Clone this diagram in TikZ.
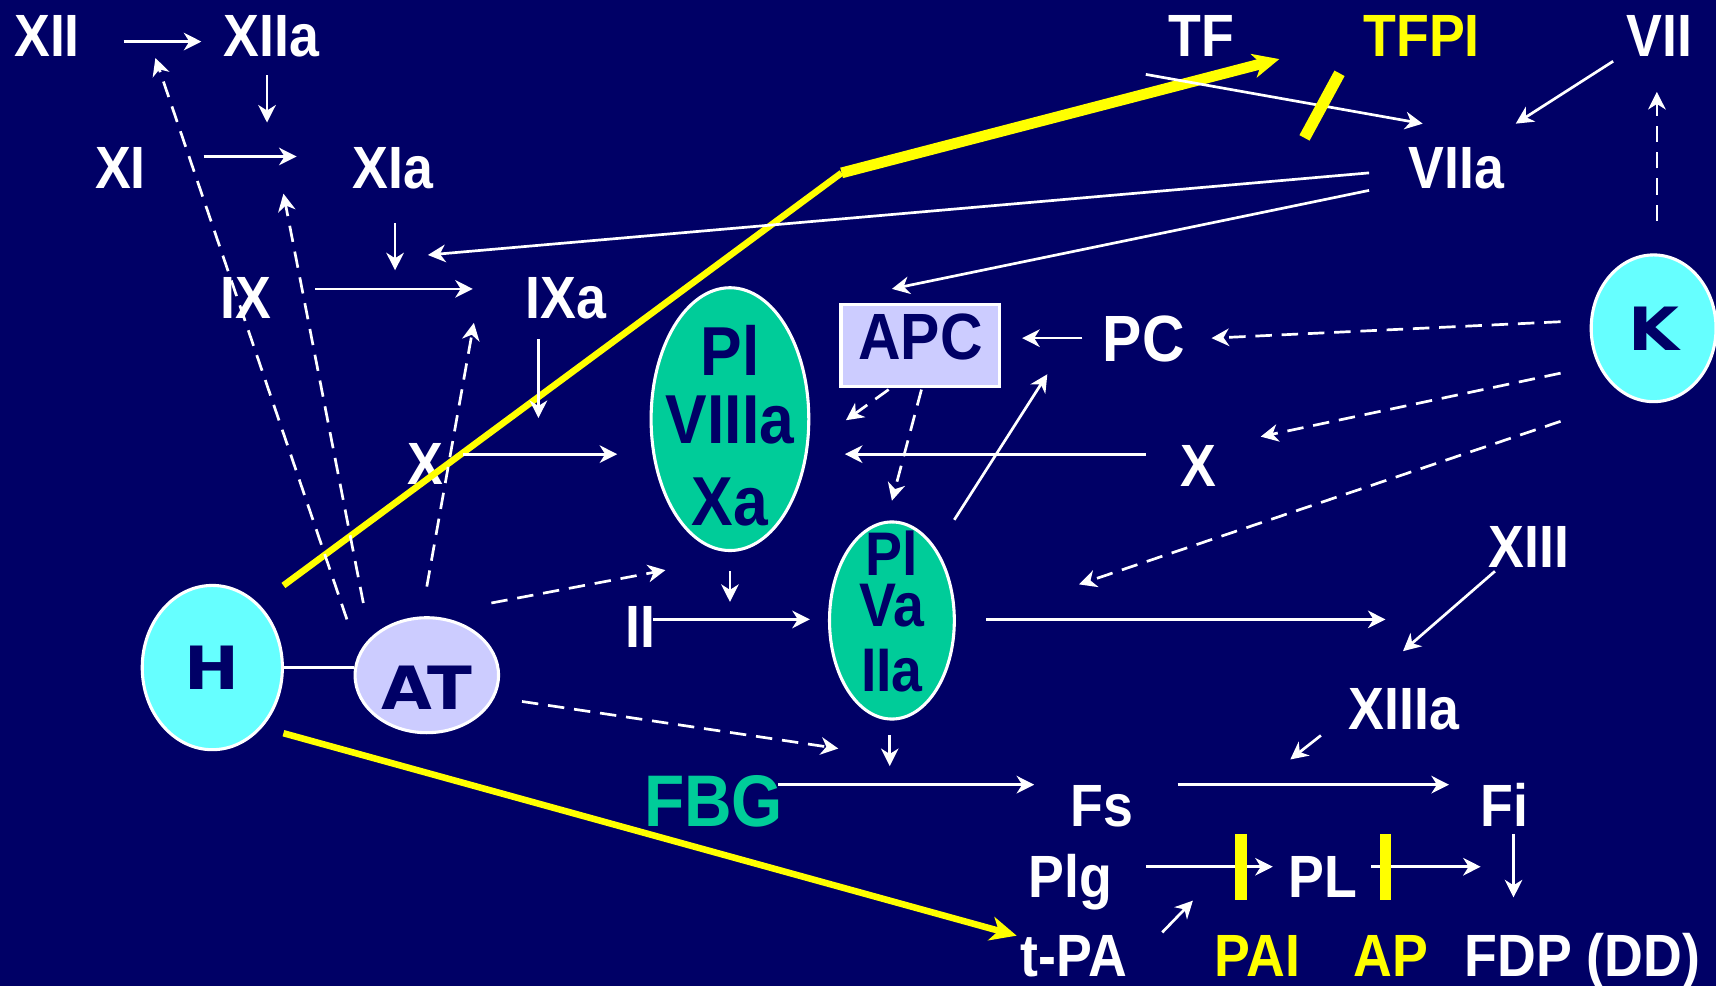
\documentclass[tikz,border=0pt]{standalone}
\usepackage{fontspec}
\setmainfont{Liberation Sans}
\newfontfamily\lblfont[FakeStretch=0.9]{Liberation Sans}
\newfontfamily\heavyfont[FakeStretch=1.1]{DejaVu Sans}
\usepackage{tikz}
\usetikzlibrary{shapes.geometric,arrows.meta,positioning,calc}
\definecolor{bgNavy}{RGB}{0,0,102}
\definecolor{ovGreen}{RGB}{0,204,153}
\definecolor{ovCyan}{RGB}{102,255,255}
\definecolor{ovLavender}{RGB}{204,204,255}
\definecolor{inhYellow}{RGB}{255,255,0}

\begin{document}
\begin{tikzpicture}[x=0.01cm, y=-0.01cm,
    lbl/.style={text=white, font=\lblfont\bfseries\fontsize{15.5}{18}\selectfont, inner sep=0pt, anchor=base},
    ylbl/.style={lbl, text=inhYellow},
    biglbl/.style={lbl, font=\lblfont\bfseries\fontsize{17}{20}\selectfont},
    ovl/.style={ellipse, draw=white, line width=0.8pt, inner sep=0pt},
    ovtxt/.style={text=bgNavy, font=\lblfont\bfseries\fontsize{18}{17.6}\selectfont, inner sep=0pt, align=center, anchor=north},
    hvtxt/.style={text=bgNavy, font=\heavyfont\bfseries\fontsize{15.5}{18}\selectfont},
    arr/.style={draw=white, line width=0.7pt, -{Stealth[length=1.6mm,width=1.6mm,inset=0.5mm]}},
    dsharr/.style={arr, dash pattern=on 1.5mm off 0.9mm},
    plain/.style={draw=white, line width=0.7pt},
    yline/.style={draw=inhYellow, line width=1.7pt},
    yarr/.style={yline, -{Stealth[length=2.4mm,width=2.2mm,inset=0.7mm]}},
    ybar/.style={draw=inhYellow, line width=3pt},
  ]
  \useasboundingbox (0,0) rectangle (1568,901);
  \fill[bgNavy] (0,0) rectangle (1568,901);

  % contact factors
  \node[lbl] (XII) at (43,52) {XII};
  \node[lbl] (XIIa) at (248,52) {XIIa};
  \node[lbl] (XI) at (110,172) {XI};
  \node[lbl] (XIa) at (359,172) {XIa};
  \node[lbl] (IX) at (225,291) {IX};
  \node[lbl] (IXa) at (517,291) {IXa};
  \node[lbl] (Xl) at (389,443) {X};

  % tissue factor side
  \node[lbl] (TF) at (1098,52) {TF};
  \node[ylbl] (TFPI) at (1299,52) {TFPI};
  \node[lbl] (VII) at (1516,52) {VII};
  \node[lbl] (VIIa) at (1331,172) {VIIa};
  \node[biglbl] (PC) at (1045,330) {PC};
  \node[lbl] (Xr) at (1095,445) {X};
  \node[lbl] (XIII) at (1397,519) {XIII};
  \node[lbl] (XIIIa) at (1283,667) {XIIIa};
  \node[lbl] (II) at (585,592) {II};

  % fibrin and fibrinolysis
  \node[lbl, text=ovGreen, font=\lblfont\bfseries\fontsize{19}{22}\selectfont] (FBG) at (652,755) {FBG};
  \node[lbl] (Fs) at (1007,755) {Fs};
  \node[lbl] (Fi) at (1375,755) {Fi};
  \node[lbl] (Plg) at (978,820) {Plg};
  \node[lbl] (PL) at (1209,820) {PL};
  \node[lbl] (tPA) at (981,892) {t-PA};
  \node[ylbl] (PAI) at (1149,892) {PAI};
  \node[ylbl] (AP) at (1271,892) {AP};
  \node[lbl] (FDP) at (1446,892) {FDP (DD)};

  % complexes
  \node[draw=white, line width=0.8pt, fill=ovLavender, minimum width=1.45cm, minimum height=0.75cm,
        inner sep=0pt, text=bgNavy, font=\lblfont\bfseries\fontsize{17}{20}\selectfont, text depth=1.6mm] (APC) at (841,316) {APC};
  \node[ovl, fill=ovGreen, minimum width=1.44cm, minimum height=2.4cm] (PlVIIIa) at (667,383) {};
  \node[ovtxt] (PlVIIIaTxt) at (667,297) {Pl\\VIIIa\\[1.3mm]Xa};
  \node[ovl, fill=ovGreen, minimum width=1.14cm, minimum height=1.8cm] (PlVa) at (815,567) {};
  \node[ovtxt, font=\lblfont\bfseries\fontsize{16}{13.4}\selectfont] (PlVaTxt) at (815,484) {Pl\\Va\\[1.2mm]IIa};
  \node[ovl, fill=ovCyan, minimum width=1.14cm, minimum height=1.34cm, hvtxt] (K) at (1511,300) {K};
  \node[ovl, fill=ovCyan, minimum width=1.28cm, minimum height=1.5cm, hvtxt] (H) at (194,610) {H};
  \node[ovl, fill=ovLavender, minimum width=1.31cm, minimum height=1.05cm, hvtxt, text height=6.2mm] (AT) at (390,617) {AT};

  % points on the reaction arrows
  \coordinate (xiTgt) at (244,112);
  \coordinate (ixTgt) at (361,247);
  \coordinate (viiaTgt) at (391,233);
  \coordinate (xTgt) at (492,382);
  \coordinate (apcTgt) at (773,384);
  \coordinate (kTgt) at (986,534);
  \coordinate (xiiiTgt) at (1266,566);
  \coordinate (iiTgt) at (667,550);
  \coordinate (fbgTgt) at (813,700);
  \coordinate (fsTgt) at (1179,694);
  \coordinate (fdpTgt) at (1353,792);
  \coordinate (plgTgt) at (1090,823);
  \coordinate (xiiAct) at (142,53);
  \coordinate (xiAct) at (259,177);
  \coordinate (ixAct) at (433,295);
  \coordinate (xAct) at (608,521);
  \coordinate (iiAct) at (766,684);
  \coordinate (yKink) at (769,158);

  % heparin lines
  \draw[yline] ([shift={(65,-75)}]H.center) -- (yKink);
  \draw[yarr, line width=2.8pt] (yKink) -- ([shift={(71,2)}]TF.base);
  \draw[yarr] ([shift={(65,60)}]H.center) -- ([shift={(-52,-37)}]tPA.base);

  % intrinsic path
  \draw[arr] ([shift={(70,-14)}]XII.base) -- ([shift={(-64,-14)}]XIIa.base);
  \draw[arr] ([shift={(-4,17)}]XIIa.base) -- (xiTgt);
  \draw[arr] ([shift={(76,-29)}]XI.base) -- ([shift={(-88,-29)}]XIa.base);
  \draw[arr] ([shift={(2,32)}]XIa.base) -- (ixTgt);
  \draw[arr] ([shift={(63,-27)}]IX.base) -- ([shift={(-85,-27)}]IXa.base);
  \draw[arr] ([shift={(-25,19)}]IXa.base) -- (xTgt);
  \draw[arr] ([shift={(34,-28)}]Xl.base) -- ([shift={(-103,32)}]PlVIIIa.center);

  % extrinsic path
  \draw[arr] ([shift={(-51,16)}]TF.base) -- ([shift={(-31,-59)}]VIIa.base);
  \draw[arr] ([shift={(-42,4)}]VII.base) -- ([shift={(54,-59)}]VIIa.base);
  \draw[arr] ([shift={(-80,-14)}]VIIa.base) -- (viiaTgt);
  \draw[arr] ([shift={(-80,2)}]VIIa.base) -- ([shift={(-26,-52)}]APC.center);
  \draw[arr] ([shift={(-48,-30)}]Xr.base) -- ([shift={(105,32)}]PlVIIIa.center);

  % protein C
  \draw[arr] ([shift={(-56,-21)}]PC.base) -- ([shift={(93,-7)}]APC.center);
  \draw[dsharr] ([shift={(-29,40)}]APC.center) -- (apcTgt);
  \draw[dsharr] ([shift={(1,40)}]APC.center) -- ([shift={(0,-18)}]PlVa.north);
  \draw[arr] ([shift={(57,-92)}]PlVa.center) -- ([shift={(-88,12)}]PC.base);

  % kallikrein
  \draw[dsharr] ([shift={(3,-98)}]K.center) -- ([shift={(-2,32)}]VII.base);
  \draw[dsharr] ([shift={(-85,-6)}]K.center) -- ([shift={(62,-21)}]PC.base);
  \draw[dsharr] ([shift={(-85,41)}]K.center) -- ([shift={(57,-46)}]Xr.base);
  \draw[dsharr] ([shift={(-85,85)}]K.center) -- (kTgt);

  % thrombin
  \draw[arr] ([shift={(0,139)}]PlVIIIa.center) -- (iiTgt);
  \draw[arr] ([shift={(12,-26)}]II.base) -- ([shift={(-75,-1)}]PlVa.center);
  \draw[arr] ([shift={(86,-1)}]PlVa.center) -- (xiiiTgt);
  \draw[arr] ([shift={(-2,105)}]PlVa.center) -- (fbgTgt);
  \draw[arr] ([shift={(-31,3)}]XIII.base) -- ([shift={(-1,-72)}]XIIIa.base);
  \draw[arr] ([shift={(-76,5)}]XIIIa.base) -- (fsTgt);

  % antithrombin
  \draw[plain] (H.east) -- (H.east -| AT.west);
  \draw[dsharr] ([shift={(-73,-51)}]AT.center) -- (xiiAct);
  \draw[dsharr] ([shift={(-58,-66)}]AT.center) -- (xiAct);
  \draw[dsharr] ([shift={(0,-81)}]AT.center) -- (ixAct);
  \draw[dsharr] ([shift={(59,-66)}]AT.center) -- (xAct);
  \draw[dsharr] ([shift={(87,24)}]AT.center) -- (iiAct);

  % fibrin and fibrinolysis
  \draw[arr] ([shift={(59,-38)}]FBG.base) -- ([shift={(-62,-38)}]Fs.base);
  \draw[arr] ([shift={(69,-38)}]Fs.base) -- ([shift={(-51,-38)}]Fi.base);
  \draw[arr] ([shift={(8,7)}]Fi.base) -- ([shift={(-63,-72)}]FDP.base);
  \draw[arr] ([shift={(69,-28)}]Plg.base) -- ([shift={(-46,-28)}]PL.base);
  \draw[arr] ([shift={(44,-28)}]PL.base) -- (fdpTgt);
  \draw[arr] ([shift={(81,-40)}]tPA.base) -- (plgTgt);

  % inhibitor bars
  \draw[ybar] ([shift={(-75,15)}]TFPI.base) -- ([shift={(-107,74)}]TFPI.base);
  \draw[ybar] ([shift={(-15,-130)}]PAI.base) -- ([shift={(-15,-70)}]PAI.base);
  \draw[ybar] ([shift={(-5,-130)}]AP.base) -- ([shift={(-5,-70)}]AP.base);
\end{tikzpicture}
\end{document}
